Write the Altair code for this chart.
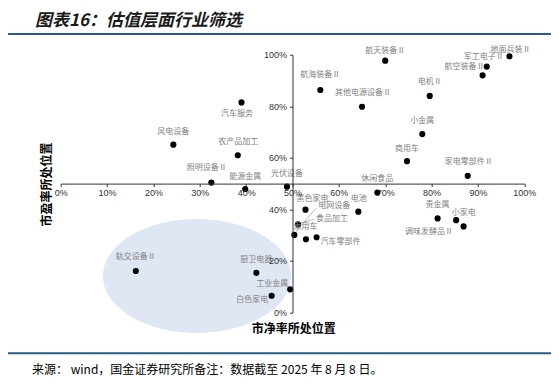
import altair as alt
import pandas as pd

# ---------------- data ----------------
names = ["航天装备Ⅱ", "地面兵装Ⅱ", "军工电子Ⅱ", "航空装备Ⅱ", "航海装备Ⅱ", "其他电源设备Ⅱ",
         "电机Ⅱ", "小金属", "商用车", "家电零部件Ⅱ", "休闲食品", "汽车服务", "风电设备",
         "农产品加工", "照明设备Ⅱ", "能源金属", "光伏设备", "黑色家电", "电网设备", "食品加工",
         "乘用车", "汽车零部件", "电池", "贵金属", "小家电", "调味发酵品Ⅱ", "轨交设备Ⅱ",
         "厨卫电器", "白色家电", "工业金属"]
pb_pos = [0.700, 0.968, 0.919, 0.910, 0.560, 0.650, 0.796, 0.780, 0.747, 0.878, 0.683,
          0.390, 0.243, 0.382, 0.325, 0.398, 0.488, 0.528, 0.504, 0.512, 0.529, 0.552,
          0.642, 0.813, 0.853, 0.869, 0.162, 0.422, 0.455, 0.495]
pe_pos = [0.977, 0.994, 0.954, 0.920, 0.863, 0.798, 0.840, 0.692, 0.587, 0.530, 0.465,
          0.815, 0.651, 0.610, 0.504, 0.479, 0.488, 0.399, 0.301, 0.342, 0.284, 0.292,
          0.391, 0.365, 0.358, 0.334, 0.161, 0.154, 0.065, 0.090]
x_ticks = [0, 0.1, 0.2, 0.3, 0.4, 0.5, 0.6, 0.7, 0.8, 0.9, 1.0]
y_ticks = [0, 0.2, 0.4, 0.6, 0.8, 1.0]
highlight_center = {"pb": [0.294], "pe": [0.1416]}

title_text = "图表16：估值层面行业筛选"
source_text = "来源： wind，国金证券研究所备注：数据截至 2025 年 8 月 8 日。"
x_title = "市净率所处位置"
y_title = "市盈率所处位置"

# ---------------- layout (pixels) ----------------
W, H = 463.6, 257.8
# label centre offset from its dot, in pixels (dx right, dy down)
LABEL_OFFSET = {
    "航天装备Ⅱ": (0, -10), "地面兵装Ⅱ": (1, -6), "军工电子Ⅱ": (-3, -9.5),
    "航空装备Ⅱ": (-18, -8), "航海装备Ⅱ": (0, -15), "其他电源设备Ⅱ": (1, -14),
    "电机Ⅱ": (0, -13.5), "小金属": (0, -13), "商用车": (0, -12.5),
    "家电零部件Ⅱ": (1, -14), "休闲食品": (0, -13.5), "汽车服务": (-4.5, 12),
    "风电设备": (0, -13), "农产品加工": (0.5, -13.5), "照明设备Ⅱ": (-4.5, -15),
    "能源金属": (0, -12.5), "光伏设备": (0, -12.5), "黑色家电": (7, -11),
    "电网设备": (40, -28.5), "食品加工": (34, -5.5), "乘用车": (-0.5, -12.5),
    "汽车零部件": (24, 4.5), "电池": (0.5, -12.5), "贵金属": (0, -13.5),
    "小家电": (7.5, -7), "调味发酵品Ⅱ": (-34.5, 5.5), "轨交设备Ⅱ": (0, -13.5),
    "厨卫电器": (0, -12.5), "白色家电": (-19.5, 4.5), "工业金属": (-18, -5),
}
# leader lines: (start dx, dy) -> (end dx, dy) relative to the dot
LEADERS = {"电网设备": ((22, -27), (1.5, -3)), "食品加工": ((16, -5), (2.5, -1.5))}

df = pd.DataFrame({"name": names, "pb": pb_pos, "pe": pe_pos})
df["lx"] = [x + LABEL_OFFSET[n][0] / W for n, x in zip(names, pb_pos)]
df["ly"] = [y - LABEL_OFFSET[n][1] / H for n, y in zip(names, pe_pos)]

lead_rows = []
for n, ((sx, sy), (ex, ey)) in LEADERS.items():
    r = df[df["name"] == n].iloc[0]
    lead_rows.append({"x0": r.pb + sx / W, "y0": r.pe - sy / H,
                      "x1": r.pb + ex / W, "y1": r.pe - ey / H})
lead_df = pd.DataFrame(lead_rows)

AX_FONT = "Liberation Sans"
CJK = "Noto Sans CJK SC"

x_scale = alt.Scale(domain=[0, 1], nice=False, zero=False)
y_scale = alt.Scale(domain=[0, 1], nice=False, zero=False)

x_axis = alt.Axis(values=x_ticks, format=".0%", offset=-H / 2, grid=False,
                  labelFont=AX_FONT, labelFontSize=9, labelColor="#333333",
                  labelFlush=False, labelOverlap=False, labelPadding=2,
                  domainColor="#333333", tickColor="#333333", tickSize=3,
                  title=x_title, titleFont=CJK, titleFontSize=12, titleFontWeight="bold",
                  titleColor="#000000", titleX=232.6, titleY=145, titleAlign="center",
                  titleBaseline="middle", zindex=1)
y_axis = alt.Axis(values=y_ticks, format=".0%", offset=-W / 2, grid=False,
                  labelFont=AX_FONT, labelFontSize=9, labelColor="#333333",
                  labelOverlap=False, labelPadding=3,
                  domainColor="#333333", tickColor="#333333", tickSize=3,
                  title=y_title, titleFont=CJK, titleFontSize=12, titleFontWeight="bold",
                  titleColor="#000000", titleX=-246.5, titleY=129.3, titleAngle=270,
                  titleAlign="center", titleBaseline="middle", zindex=1)

ry = 57 / 94
ellipse_path = f"M -1 0 A 1 {ry:.3f} 0 1 1 1 0 A 1 {ry:.3f} 0 1 1 -1 0 Z"

ellipse = alt.Chart(pd.DataFrame(highlight_center)).mark_point(
    shape=ellipse_path, filled=True, color="#dfe6f4", opacity=1, size=188 ** 2, strokeWidth=0
).encode(x=alt.X("pb:Q", scale=x_scale, axis=x_axis),
         y=alt.Y("pe:Q", scale=y_scale, axis=y_axis))

leaders = alt.Chart(lead_df).mark_rule(color="#999999", strokeWidth=0.7).encode(
    x=alt.X("x0:Q", scale=x_scale, axis=x_axis), y=alt.Y("y0:Q", scale=y_scale, axis=y_axis),
    x2="x1:Q", y2="y1:Q")

points = alt.Chart(df).mark_circle(size=38, color="#000000", opacity=1).encode(
    x=alt.X("pb:Q", scale=x_scale, axis=x_axis),
    y=alt.Y("pe:Q", scale=y_scale, axis=y_axis))

labels = alt.Chart(df).mark_text(font=CJK, fontSize=8, color="#808080",
                                 align="center", baseline="middle").encode(
    x=alt.X("lx:Q", scale=x_scale, axis=x_axis),
    y=alt.Y("ly:Q", scale=y_scale, axis=y_axis),
    text="name:N")

one = pd.DataFrame({"k": [0]})
title = alt.Chart(one).mark_text(font=CJK, fontSize=17, fontWeight="bold", fontStyle="italic",
                                 color="#1a1a1a", align="left", baseline="middle").encode(
    x=alt.value(-25.7), y=alt.value(-34.2), text=alt.value(title_text))
top_line = alt.Chart(one).mark_rule(color="#2b5d8a", strokeWidth=2).encode(
    x=alt.value(-52.7), x2=alt.value(491.3), y=alt.value(-20.7))
bottom_line = alt.Chart(one).mark_rule(color="#2b5d8a", strokeWidth=2).encode(
    x=alt.value(-52.7), x2=alt.value(491.3), y=alt.value(298.6))
source = alt.Chart(one).mark_text(font=CJK, fontSize=12, color="#000000",
                                  align="left", baseline="middle").encode(
    x=alt.value(-28.7), y=alt.value(314.8), text=alt.value(source_text))

chart = alt.layer(ellipse, leaders, points, labels, title, top_line, bottom_line, source).properties(
    width=W, height=H,
    autosize=alt.AutoSizeParams(type="none"),
    padding={"left": 52.7, "top": 46.7, "right": 26.7, "bottom": 64.5},
).configure_view(stroke=None)

chart.save("out.html", embed_options={"renderer": "svg", "actions": False})
